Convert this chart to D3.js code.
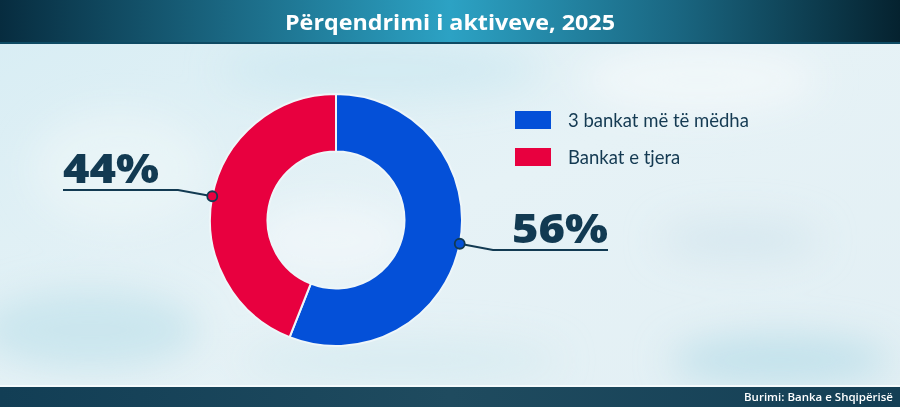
<!DOCTYPE html>
<html>
<head>
<meta charset="utf-8">
<script src="https://cdn.jsdelivr.net/npm/d3@7"></script>
<style>
html,body{margin:0;padding:0;overflow:hidden;background:#e6f1f5;}
svg{display:block;}
</style>
</head>
<body>
<svg id="chart" width="900" height="407"></svg>
<script>
const title = "Përqendrimi i aktiveve, 2025";
const source = "Burimi: Banka e Shqipërisë";
const categories = ["3 bankat më të mëdha", "Bankat e tjera"];
const values = [56, 44];
const valueLabels = ["56%", "44%"];
const colors = ["#0450d8", "#e8003f"];

const W = 900, H = 407;
const svg = d3.select("#chart");
const defs = svg.append("defs");

// background gradient
const bg = defs.append("linearGradient").attr("id","bg").attr("x1","0").attr("x2","1").attr("y1","0").attr("y2","1");
bg.append("stop").attr("offset","0").attr("stop-color","#d7edf4");
bg.append("stop").attr("offset","0.5").attr("stop-color","#e6f2f6");
bg.append("stop").attr("offset","1").attr("stop-color","#e2eff4");
svg.append("rect").attr("width",W).attr("height",H).attr("fill","url(#bg)");

const blur = defs.append("filter").attr("id","blur").attr("x","-50%").attr("y","-50%").attr("width","200%").attr("height","200%");
blur.append("feGaussianBlur").attr("stdDeviation",18);
const blobs = [
  {x:90,y:330,rx:110,ry:40,c:"#c4e3ec",o:0.8},
  {x:380,y:70,rx:160,ry:30,c:"#cde8f1",o:0.7},
  {x:700,y:80,rx:120,ry:35,c:"#f2f8fa",o:0.8},
  {x:740,y:240,rx:80,ry:20,c:"#d3e6ee",o:0.8},
  {x:780,y:360,rx:110,ry:25,c:"#bfe0ea",o:0.9},
  {x:400,y:360,rx:160,ry:20,c:"#d3e9f0",o:0.7},
  {x:330,y:240,rx:80,ry:40,c:"#f4f9fb",o:0.6},
  {x:120,y:170,rx:90,ry:60,c:"#eef6f8",o:0.6}
];
svg.append("g").attr("filter","url(#blur)").selectAll("ellipse").data(blobs).join("ellipse")
  .attr("cx",d=>d.x).attr("cy",d=>d.y).attr("rx",d=>d.rx).attr("ry",d=>d.ry)
  .attr("fill",d=>d.c).attr("opacity",d=>d.o);

// title bar
const tg = defs.append("linearGradient").attr("id","tg").attr("x1","0").attr("x2","1");
tg.append("stop").attr("offset","0").attr("stop-color","#072c3f");
tg.append("stop").attr("offset","0.25").attr("stop-color","#1a6782");
tg.append("stop").attr("offset","0.5").attr("stop-color","#2ca2c4");
tg.append("stop").attr("offset","0.75").attr("stop-color","#1a6782");
tg.append("stop").attr("offset","1").attr("stop-color","#05222f");
svg.append("rect").attr("x",0).attr("y",0).attr("width",W).attr("height",44).attr("fill","url(#tg)");
svg.append("rect").attr("x",0).attr("y",42).attr("width",W).attr("height",2).attr("fill","#0e4a63");
svg.append("text").attr("x",W/2).attr("y",30).attr("text-anchor","middle")
  .attr("font-family","'Open Sans', Lato, sans-serif").attr("font-weight",700)
  .attr("font-size",22).attr("fill","#ffffff")
  .attr("textLength",330).attr("lengthAdjust","spacingAndGlyphs").text(title);

// footer bar
const fg = defs.append("linearGradient").attr("id","fg").attr("x1","0").attr("x2","1");
fg.append("stop").attr("offset","0").attr("stop-color","#123e55");
fg.append("stop").attr("offset","0.5").attr("stop-color","#1f4b5f");
fg.append("stop").attr("offset","1").attr("stop-color","#143f55");
svg.append("rect").attr("x",0).attr("y",385).attr("width",W).attr("height",2).attr("fill","#f4fafc");
svg.append("rect").attr("x",0).attr("y",387).attr("width",W).attr("height",20).attr("fill","url(#fg)");
svg.append("text").attr("x",893).attr("y",401).attr("text-anchor","end")
  .attr("font-family","'Open Sans', Lato, sans-serif").attr("font-weight",600)
  .attr("font-size",11.5).attr("fill","#ffffff").text(source);

// donut
const cx = 336, cy = 220, rOuter = 126, rInner = 68.5;
const pie = d3.pie().sort(null).value(d=>d)(values);
const arc = d3.arc().innerRadius(rInner).outerRadius(rOuter);
const g = svg.append("g").attr("transform",`translate(${cx},${cy})`);
g.selectAll("path").data(pie).join("path")
  .attr("d",arc).attr("fill",(d,i)=>colors[i])
  .attr("stroke","#eef6f9").attr("stroke-width",2);

// leader lines and labels
const th = Math.atan2(24,125);
const leaders = [
  {angle: Math.PI/2 + th, elbowX: 493, endX: 608, y: 250, textX: 512, textY: 243},
  {angle: -Math.PI/2 + th, elbowX: 178, endX: 63, y: 190, textX: 63, textY: 183}
];
const ink = "#123a52";
pie.forEach((d,i)=>{
  const L = leaders[i];
  const px = cx + rOuter*Math.sin(L.angle);
  const py = cy - rOuter*Math.cos(L.angle);
  svg.append("polyline")
    .attr("points",`${px},${py} ${L.elbowX},${L.y} ${L.endX},${L.y}`)
    .attr("fill","none").attr("stroke",ink).attr("stroke-width",2);
  svg.append("circle").attr("cx",px).attr("cy",py).attr("r",5)
    .attr("fill",colors[i]).attr("stroke",ink).attr("stroke-width",1.8);
  svg.append("text").attr("x",L.textX).attr("y",L.textY)
    .attr("font-family","'Open Sans', Lato, sans-serif").attr("font-weight",800)
    .attr("font-size",40).attr("fill",ink)
    .attr("textLength",96).attr("lengthAdjust","spacingAndGlyphs")
    .text(valueLabels[i]);
});

// legend
const lg = svg.append("g").attr("transform","translate(515,111)");
categories.forEach((c,i)=>{
  const row = lg.append("g").attr("transform",`translate(0,${i*37})`);
  row.append("rect").attr("width",36).attr("height",18).attr("fill",colors[i]);
  row.append("text").attr("x",53).attr("y",16).attr("font-family","Lato, 'Open Sans', sans-serif")
    .attr("font-size",18.5).attr("fill","#143a52").text(c);
});
</script>
</body>
</html>
